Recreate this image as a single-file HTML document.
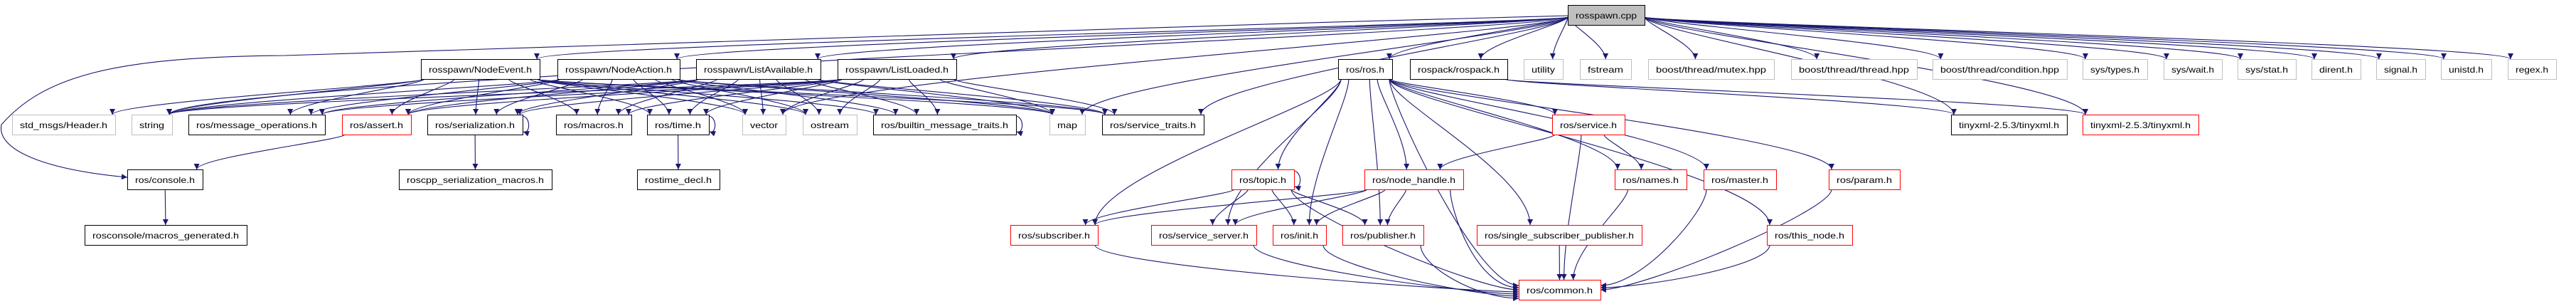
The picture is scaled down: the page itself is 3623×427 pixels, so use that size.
<!DOCTYPE html>
<html><head><meta charset="utf-8"><style>
html,body{margin:0;padding:0;background:#fff;}
svg{display:block;}
text{font-family:"Liberation Sans",sans-serif;font-size:12px;fill:#000;}
</style></head><body>
<svg id="s" width="3623" height="427" viewBox="0 0 3623 427" xmlns="http://www.w3.org/2000/svg">
<defs><marker id="a" viewBox="0 0 10 10" refX="10" refY="5" markerWidth="10" markerHeight="8" markerUnits="userSpaceOnUse" orient="auto"><path d="M0,0 L10,5 L0,10 z" fill="#191970"/></marker></defs>
<g id="edges" fill="none" stroke="#191970" stroke-width="1.1"></g>
<g id="nodes"></g>
</svg>
<script>
var N={
cpp:[2205,7,108,"rosspawn.cpp","k","#bfbfbf"],
ne:[592,83,167,"rosspawn/NodeEvent.h","k"],
na:[784,83,172,"rosspawn/NodeAction.h","k"],
la:[979,83,175,"rosspawn/ListAvailable.h","k"],
ll:[1178,83,167,"rosspawn/ListLoaded.h","k"],
ros:[1882,83,76,"ros/ros.h","k"],
rp:[1983,83,137,"rospack/rospack.h","k"],
ut:[2143,83,55,"utility","g"],
fs:[2222,83,72,"fstream","g"],
mu:[2318,83,177,"boost/thread/mutex.hpp","g"],
th:[2519,83,177,"boost/thread/thread.hpp","g"],
co:[2718,83,189,"boost/thread/condition.hpp","g"],
st:[2929,83,91,"sys/types.h","g"],
sw:[3043,83,82,"sys/wait.h","g"],
ss:[3147,83,82,"sys/stat.h","g"],
di:[3251,83,69,"dirent.h","g"],
si:[3342,83,69,"signal.h","g"],
un:[3433,83,71,"unistd.h","g"],
re:[3527,83,68,"regex.h","g"],
hd:[17,161,145,"std_msgs/Header.h","g"],
str:[185,161,57,"string","g"],
mo:[265,161,192,"ros/message_operations.h","k"],
as:[481,161,97,"ros/assert.h","r"],
se:[601,161,134,"ros/serialization.h","k"],
ma:[782,161,106,"ros/macros.h","k"],
ti:[910,161,87,"ros/time.h","k"],
ve:[1044,161,61,"vector","g"],
os:[1129,161,76,"ostream","g"],
bm:[1228,161,201,"ros/builtin_message_traits.h","k"],
mp:[1476,161,50,"map","g"],
sv:[1550,161,143,"ros/service_traits.h","k"],
srv:[2183,161,102,"ros/service.h","r"],
tx1:[2744,161,163,"tinyxml-2.5.3/tinyxml.h","k"],
tx2:[2929,161,163,"tinyxml-2.5.3/tinyxml.h","r"],
cn:[179,238,106,"ros/console.h","k"],
rsm:[561,238,215,"roscpp_serialization_macros.h","k"],
rtd:[896,238,116,"rostime_decl.h","k"],
tp:[1732,238,88,"ros/topic.h","r"],
nh:[1919,238,139,"ros/node_handle.h","r"],
nm:[2271,238,101,"ros/names.h","r"],
mst:[2396,238,102,"ros/master.h","r"],
pa:[2572,238,100,"ros/param.h","r"],
mg:[119,316,228,"rosconsole/macros_generated.h","k"],
sub:[1421,316,123,"ros/subscriber.h","r"],
ssv:[1619,316,148,"ros/service_server.h","r"],
in:[1790,316,75,"ros/init.h","r"],
pb:[1888,316,114,"ros/publisher.h","r"],
ssp:[2077,316,232,"ros/single_subscriber_publisher.h","r"],
tn:[2485,316,120,"ros/this_node.h","r"],
cm:[2136,393,115,"ros/common.h","r"]
};
var H=28,ns="http://www.w3.org/2000/svg";
var gN=document.getElementById("nodes"),gE=document.getElementById("edges");
for(var k in N){var n=N[k];
 var r=document.createElementNS(ns,"rect");
 r.setAttribute("x",n[0]+.5);r.setAttribute("y",n[1]+.5);r.setAttribute("width",n[2]);r.setAttribute("height",H);
 r.setAttribute("fill",n[5]||"#fff");
 r.setAttribute("stroke",n[4]=="k"?"#000":n[4]=="g"?"#bfbfbf":"#ff0000");
 gN.appendChild(r);
 var t=document.createElementNS(ns,"text");
 t.setAttribute("x",n[0]+n[2]/2);t.setAttribute("y",n[1]+H/2+5);t.setAttribute("text-anchor","middle");
 t.setAttribute("textLength",Math.max(10,n[2]-22));t.setAttribute("lengthAdjust","spacingAndGlyphs");
 t.textContent=n[3];gN.appendChild(t);}
function P(d){var p=document.createElementNS(ns,"path");p.setAttribute("d",d);p.setAttribute("marker-end","url(#a)");gE.appendChild(p);}
var cmL=0,cmR=0;
function E(a,b){var A=N[a],B=N[b];
 var acx=A[0]+A[2]/2,bcx=B[0]+B[2]/2;
 var sx=acx+Math.max(-A[2]/2+4,Math.min(A[2]/2-4,(bcx-acx)*0.25));
 var sy=A[1]+H;
 var tx=bcx+Math.max(-B[2]/2+4,Math.min(B[2]/2-4,(acx-bcx)*0.15)),ty=B[1];
 if(a=="cpp"){sy=A[1]+H*0.6;sx=bcx<acx?A[0]:(bcx>A[0]+A[2]?A[0]+A[2]:sx);}
 if(b=="cm"&&Math.abs(acx-bcx)>150){
   var left=acx<bcx;var ex=left?B[0]:B[0]+B[2];var ey=B[1]+8+(left?(cmL++):(cmR++))*3;
   P("M"+sx+","+sy+" C"+sx+","+(sy+30)+" "+(ex+(left?-60:60))+","+ey+" "+ex+","+ey);return;}
 var dy=ty-sy;
 P("M"+sx+","+sy+" C"+sx+","+(sy+dy*0.15)+" "+tx+","+(ty-dy*0.35)+" "+tx+","+ty);}
function L(a){var A=N[a],x=A[0]+A[2],y=A[1];P("M"+(x-5)+","+(y+2)+" C"+(x+12)+","+(y-2)+" "+(x+12)+","+(y+H)+" "+(x+1)+","+(y+H-4));}
["ne","na","la","ll","ros","rp","ut","fs","mu","th","co","st","sw","ss","di","si","un","re","str","mp","sv","tx1","tx2","ve"].forEach(function(b){E("cpp",b);});
var inc=["str","mo","as","se","ma","ti","ve","os","bm","mp","sv"];
["ne","na","la","ll"].forEach(function(a){inc.forEach(function(b){E(a,b);});});
E("ne","hd");
["sub","tp","ssv","in","nh","pb","ssp","srv","nm","mst","tn","pa","cm"].forEach(function(b){E("ros",b);});
E("rp","tx1");E("rp","tx2");
E("srv","nh");E("srv","nm");E("srv","cm");
["sub","ssv","in","pb","cm"].forEach(function(b){E("nh",b);E("tp",b);});
["sub","ssv","in","pb","ssp","nm","mst","tn","pa"].forEach(function(b){E(b,"cm");});
E("as","cn");E("cn","mg");E("se","rsm");E("ti","rtd");
L("se");L("ti");L("bm");L("tp");
P("M2205,22 C1500,40 700,70 400,78 C150,80 60,110 2,175 C-5,210 60,238 179,249");
</script>
</body></html>
